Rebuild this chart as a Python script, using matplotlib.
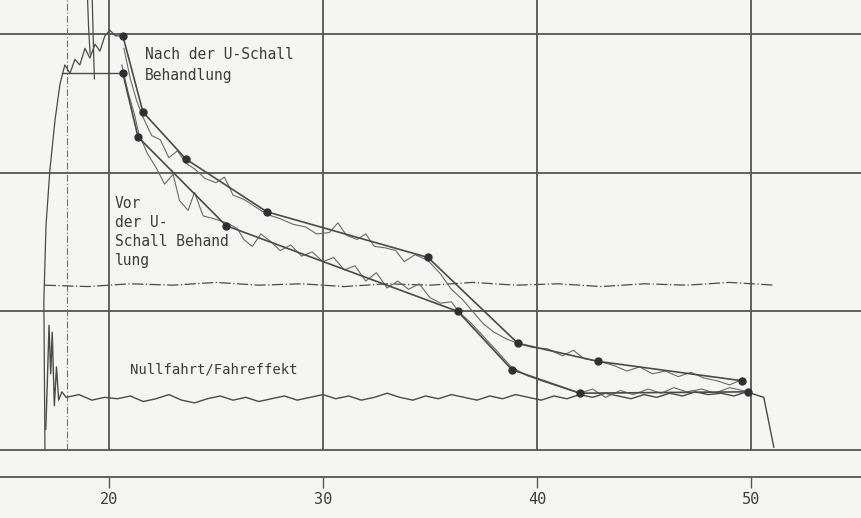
import matplotlib.pyplot as plt

# x in the chart's own units (20..50), y in grid steps (0..3)
tick_pos = [20, 30, 40, 50]
tick_labels = ["20", "30", "40", "50"]
grid_y = [0, 1, 2, 3]

# smooth curves through the marked points
nach_x = [20.65, 21.59, 23.60, 27.38, 34.91, 39.11, 42.85, 49.58]
nach_y = [2.99, 2.44, 2.10, 1.72, 1.39, 0.77, 0.64, 0.50]
vor_x = [20.65, 21.36, 25.47, 36.31, 38.83, 42.01, 49.86]
vor_y = [2.72, 2.26, 1.62, 1.00, 0.58, 0.41, 0.42]

# measured (noisy) traces
nach_raw_x = [20.7, 21.0, 21.3, 21.6, 22.0, 22.4, 22.8, 23.2, 23.6, 24.0, 24.5, 25.0,
              25.4, 25.8, 26.3, 26.8, 27.4, 28.0, 28.6, 29.2, 29.7, 30.3, 30.7, 31.1,
              31.6, 32.0, 32.4, 32.9, 33.4, 33.8, 34.3, 34.9, 35.5, 36.0, 36.5, 37.0,
              37.5, 38.0, 38.6, 39.1, 39.8, 40.5, 41.2, 41.7, 42.2, 42.9, 43.6, 44.2,
              44.8, 45.4, 46.0, 46.6, 47.2, 47.8, 48.4, 49.0, 49.6]
nach_raw_y = [2.90, 2.68, 2.52, 2.40, 2.27, 2.24, 2.11, 2.16, 2.07, 2.03, 1.96, 1.93,
              1.97, 1.84, 1.81, 1.76, 1.70, 1.67, 1.63, 1.61, 1.56, 1.57, 1.64, 1.55,
              1.52, 1.56, 1.47, 1.46, 1.44, 1.36, 1.41, 1.37, 1.27, 1.16, 1.09, 1.00,
              0.91, 0.85, 0.80, 0.77, 0.74, 0.73, 0.68, 0.72, 0.66, 0.64, 0.61, 0.57,
              0.60, 0.55, 0.57, 0.53, 0.56, 0.52, 0.50, 0.47, 0.51]
vor_raw_x = [20.6, 20.9, 21.2, 21.4, 21.8, 22.2, 22.6, 23.0, 23.3, 23.7, 24.0, 24.4,
             24.9, 25.5, 26.0, 26.3, 26.7, 27.1, 27.6, 28.0, 28.5, 29.0, 29.5, 30.0,
             30.5, 31.0, 31.5, 32.0, 32.5, 33.0, 33.5, 34.0, 34.5, 35.0, 35.5, 36.0,
             36.4, 36.9, 37.5, 38.1, 38.8, 39.5, 40.2, 40.8, 41.4, 42.0, 42.6, 43.2,
             43.9, 44.5, 45.2, 45.8, 46.4, 47.0, 47.7, 48.3, 49.0, 49.9]
vor_raw_y = [2.78, 2.58, 2.42, 2.28, 2.14, 2.04, 1.92, 1.99, 1.80, 1.73, 1.86, 1.69,
             1.67, 1.64, 1.60, 1.52, 1.47, 1.56, 1.50, 1.44, 1.48, 1.40, 1.43, 1.36,
             1.39, 1.30, 1.33, 1.22, 1.28, 1.17, 1.22, 1.16, 1.20, 1.10, 1.06, 1.07,
             0.99, 0.92, 0.82, 0.72, 0.60, 0.54, 0.50, 0.47, 0.44, 0.41, 0.44, 0.38,
             0.43, 0.40, 0.44, 0.41, 0.45, 0.42, 0.44, 0.41, 0.45, 0.42]

# rising part at the left
ramp_x = [17.01, 16.96, 17.06, 17.24, 17.48, 17.71, 17.94, 18.18, 18.41, 18.64,
          18.88, 19.11, 19.35, 19.58, 19.81, 20.05, 20.30, 20.65]
ramp_y = [0.0, 1.08, 1.62, 2.02, 2.38, 2.64, 2.78, 2.72, 2.82, 2.78, 2.90, 2.83,
          2.93, 2.88, 2.99, 3.03, 2.99, 2.99]
flat_x = [17.80, 20.65]
flat_y = [2.72, 2.72]
spike1_x = [19.00, 19.05, 19.12]
spike1_y = [3.26, 3.05, 2.86]
spike2_x = [19.22, 19.27, 19.32]
spike2_y = [3.26, 2.95, 2.68]

# Nullfahrt / Fahreffekt
null_x = [17.05, 17.12, 17.20, 17.28, 17.35, 17.45, 17.55, 17.65, 17.80, 18.0, 18.6,
          19.2, 19.8, 20.4, 21.0, 21.6, 22.2, 22.8, 23.4, 24.0, 24.6, 25.2, 25.8,
          26.4, 27.0, 27.6, 28.2, 28.8, 29.4, 30.0, 30.6, 31.2, 31.8, 32.4, 33.0,
          33.6, 34.2, 34.8, 35.4, 36.0, 36.6, 37.2, 37.8, 38.4, 39.0, 39.6, 40.2,
          40.8, 41.4, 42.0, 42.6, 43.2, 43.8, 44.4, 45.0, 45.6, 46.2, 46.8, 47.4,
          48.0, 48.6, 49.2, 49.8, 50.6, 51.07]
null_y = [0.15, 0.48, 0.90, 0.55, 0.85, 0.32, 0.60, 0.36, 0.42, 0.38, 0.40,
          0.36, 0.38, 0.37, 0.39, 0.35, 0.37, 0.40, 0.36, 0.34, 0.37, 0.39, 0.36,
          0.38, 0.35, 0.37, 0.39, 0.36, 0.38, 0.40, 0.37, 0.39, 0.36, 0.38, 0.41,
          0.38, 0.36, 0.39, 0.37, 0.40, 0.38, 0.36, 0.39, 0.37, 0.40, 0.38, 0.36,
          0.39, 0.37, 0.40, 0.38, 0.41, 0.39, 0.37, 0.40, 0.38, 0.41, 0.39, 0.42,
          0.40, 0.41, 0.39, 0.42, 0.38, 0.02]

# dash-dot reference line
base_x = [17.0, 19.0, 21.0, 23.0, 25.0, 27.0, 29.0, 31.0, 33.0, 35.0, 37.0, 39.0,
          41.0, 43.0, 45.0, 47.0, 49.0, 51.1]
base_y = [1.19, 1.18, 1.20, 1.19, 1.21, 1.19, 1.20, 1.18, 1.20, 1.19, 1.21, 1.19,
          1.20, 1.18, 1.20, 1.19, 1.21, 1.19]

grid_col = "#555555"
line_col = "#4a4a4a"
text_col = "#3c3c3c"
mono = "DejaVu Sans Mono"

fig = plt.figure(figsize=(8.62, 5.18), dpi=100, facecolor="#f5f5f3")
ax = fig.add_axes([0, 41 / 518, 1, 477 / 518])
ax.set_facecolor("#f5f5f3")
ax.set_xlim(14.91, 55.19)
ax.set_ylim(-0.195, 3.249)

for s in ["top", "left", "right"]:
    ax.spines[s].set_visible(False)
ax.spines["bottom"].set_color(grid_col)
ax.spines["bottom"].set_linewidth(1.3)

for y in grid_y:
    ax.axhline(y, color=grid_col, lw=1.3, zorder=1)
ax.vlines(tick_pos, 0, 3.249, color=grid_col, lw=1.3, zorder=1)

ax.set_xticks(tick_pos)
ax.set_xticklabels(tick_labels, fontsize=11, color=text_col, family=mono)
ax.tick_params(axis="x", direction="out", length=8, width=1, color=grid_col, pad=3)
ax.set_yticks([])

# left vertical dash-dot
ax.plot([18.04, 18.04], [0.0, 3.249], color="#707070", lw=0.8, dashes=(6, 2, 1, 2))

ax.plot(base_x, base_y, color=line_col, lw=0.9, dashes=(9, 2, 1, 2))
ax.plot(null_x, null_y, color=line_col, lw=1.0)

ax.plot(ramp_x, ramp_y, color=line_col, lw=0.9)
ax.plot(flat_x, flat_y, color=line_col, lw=1.0)
ax.plot(spike1_x, spike1_y, color=line_col, lw=0.9)
ax.plot(spike2_x, spike2_y, color=line_col, lw=0.9)

ax.plot(nach_raw_x, nach_raw_y, color="#6a6a6a", lw=0.8)
ax.plot(vor_raw_x, vor_raw_y, color="#6a6a6a", lw=0.8)
ax.plot(nach_x, nach_y, color=line_col, lw=1.2, marker="o", ms=5, mfc="#303030", mec="#303030")
ax.plot(vor_x, vor_y, color=line_col, lw=1.2, marker="o", ms=5, mfc="#303030", mec="#303030")

ax.text(21.68, 2.78, "Nach der U-Schall\nBehandlung", fontsize=10.5, color=text_col,
        family=mono, va="center", ha="left", linespacing=1.55)
ax.text(20.28, 1.575, "Vor\nder U-\nSchall Behand\nlung", fontsize=10.5, color=text_col,
        family=mono, va="center", ha="left", linespacing=1.35)
ax.text(20.98, 0.58, "Nullfahrt/Fahreffekt", fontsize=10, color=text_col,
        family=mono, va="center", ha="left")

fig.savefig("out.png", dpi=100, facecolor=fig.get_facecolor())
